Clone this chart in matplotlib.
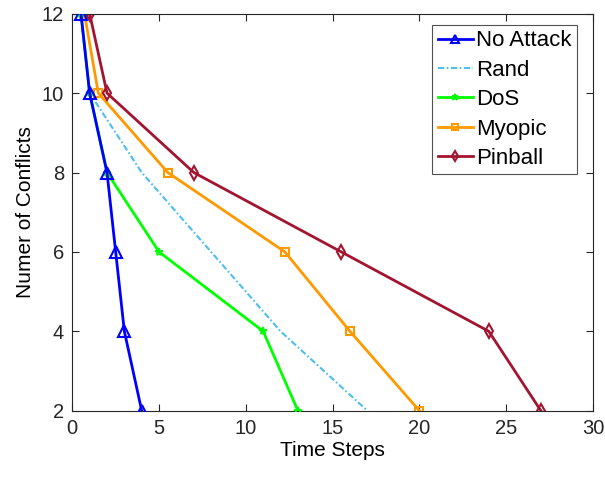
import matplotlib
matplotlib.use("Agg")
import matplotlib.pyplot as plt

plt.rcParams['font.family'] = ['Liberation Sans', 'DejaVu Sans']

series_names = ["No Attack", "Rand", "DoS", "Myopic", "Pinball"]
conflicts = [12, 10, 8, 6, 4, 2]
t_noattack = [0.5, 1, 2, 2.5, 3, 4]
t_rand = [0.5, 1, 4, 8, 12, 17]
t_dos = [0.5, 1, 2, 5, 11, 13]
t_myopic = [0.7, 1.5, 5.5, 12.25, 16, 20]
t_pinball = [1, 2, 7, 15.5, 24, 27]

xticks = [0, 5, 10, 15, 20, 25, 30]
yticks = [2, 4, 6, 8, 10, 12]

fig = plt.figure(figsize=(6.05, 4.83), dpi=100)
ax = fig.add_axes([0.1195, 0.1497, 0.8605, 0.8219])

ax.plot(t_noattack, conflicts, color='#0000FF', lw=2, marker='^', ms=8,
        mfc='none', mew=1.5, label=series_names[0], zorder=5)
ax.plot(t_rand, conflicts, color='#4DBEEE', lw=1.5, ls=(0, (3, 1.2, 0.8, 1.2)),
        label=series_names[1])
ax.plot(t_dos, conflicts, color='#00FF00', lw=2, marker='*', ms=6,
        mfc='none', mew=1.2, label=series_names[2], zorder=4)
ax.plot(t_myopic, conflicts, color='#FF9900', lw=2, marker='s', ms=6,
        mfc='none', mew=1.5, label=series_names[3])
ax.plot(t_pinball, conflicts, color='#A2142F', lw=2, marker='d', ms=7,
        mfc='none', mew=1.5, label=series_names[4])

ax.set_xlim(0, 30)
ax.set_ylim(2, 12)
ax.set_xticks(xticks)
ax.set_yticks(yticks)
ax.tick_params(direction='in', top=True, right=True, labelsize=14.5,
               length=5, width=0.8, colors='#262626', pad=6)
for s in ax.spines.values():
    s.set_color('#262626')
    s.set_linewidth(0.8)

ax.set_xlabel("Time Steps", fontsize=15, color='#000000', labelpad=2)
ax.set_ylabel("Numer of Conflicts", fontsize=15, color='#000000', labelpad=5)

leg = ax.legend(loc='upper right', bbox_to_anchor=(0.970, 0.9715),
                borderaxespad=0, fontsize=16, frameon=True, fancybox=False,
                edgecolor='#262626', handlelength=1.6, handletextpad=0.15,
                labelspacing=0.38, borderpad=0.24, markerscale=0.8)
leg.get_frame().set_linewidth(0.8)

fig.savefig("out.png", dpi=100)
